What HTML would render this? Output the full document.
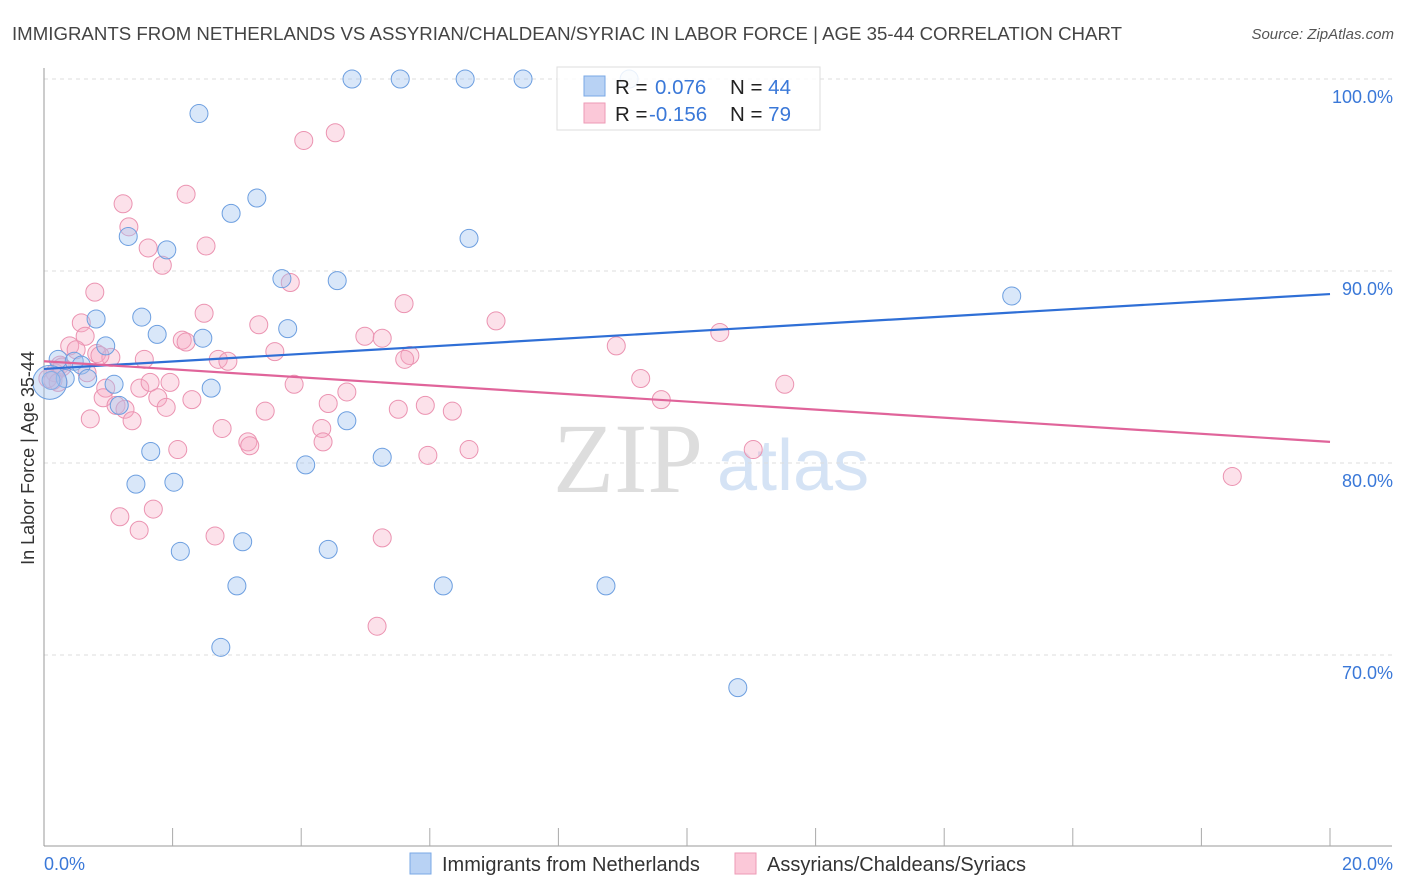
<!DOCTYPE html>
<html><head><meta charset="utf-8"><style>
body{margin:0;background:#fff;font-family:"Liberation Sans",sans-serif;}
svg{display:block}
</style></head><body>
<svg id="chart" width="1406" height="892">
<text x="12" y="40" font-size="18.6" fill="#444" textLength="1110" lengthAdjust="spacingAndGlyphs">IMMIGRANTS FROM NETHERLANDS VS ASSYRIAN/CHALDEAN/SYRIAC IN LABOR FORCE | AGE 35-44 CORRELATION CHART</text>
<text x="1394" y="39" font-size="15" fill="#555" font-style="italic" text-anchor="end">Source: ZipAtlas.com</text>
<g>
<text x="553" y="492" font-size="100" font-family="Liberation Serif,serif" fill="#ddd">ZIP</text>
<text x="717" y="490" font-size="72" fill="#d5e3f5">atlas</text>
</g>
<g id="grid"></g>
<g id="axes"></g>
<g id="pts"></g>
<g id="trends"></g>
<g>
<rect x="557" y="67" width="263" height="63" fill="#fff" fill-opacity="0.85" stroke="#ddd"/>
<rect x="584" y="76" width="21" height="20" fill="#b8d2f4" stroke="#7aa8e6"/>
<rect x="584" y="103" width="21" height="20" fill="#fbc8d8" stroke="#ee9ab6"/>
<text x="615" y="94" font-size="20.5" fill="#222">R = <tspan fill="#3a78d8" x="655">0.076</tspan><tspan x="730">N = </tspan><tspan fill="#3a78d8">44</tspan></text>
<text x="615" y="121" font-size="20.5" fill="#222">R = <tspan fill="#3a78d8" x="649">-0.156</tspan><tspan x="730">N = </tspan><tspan fill="#3a78d8">79</tspan></text>
</g>
<g>
<rect x="410" y="853" width="21" height="21" fill="#b8d2f4" stroke="#7aa8e6"/>
<text x="442" y="871" font-size="20" fill="#333">Immigrants from Netherlands</text>
<rect x="735" y="853" width="21" height="21" fill="#fbc8d8" stroke="#ee9ab6"/>
<text x="767" y="871" font-size="20" fill="#333">Assyrians/Chaldeans/Syriacs</text>
</g>
<text x="44" y="870" font-size="18" fill="#3a78d8">0.0%</text>
<text x="1393" y="870" font-size="18" fill="#3a78d8" text-anchor="end">20.0%</text>
<text transform="translate(34,458) rotate(-90)" font-size="18" fill="#333" text-anchor="middle">In Labor Force | Age 35-44</text>
</svg>
<script>
const yTicks=[100,90,80,70];
const yTickLabels=["100.0%","90.0%","80.0%","70.0%"];
const xTicks=[2,4,6,8,10,12,14,16,18,20];
const blueX=[4.79,5.54,6.55,7.45,9.10,2.41,3.31,2.91,1.31,1.91,6.61,3.70,4.56,15.05,0.81,1.52,1.76,2.47,3.79,0.96,0.22,0.47,0.58,0.33,0.68,1.09,2.60,0.11,1.17,4.71,1.66,4.07,5.26,1.43,2.02,2.12,3.09,4.42,3.00,6.21,8.74,2.75,10.79,0.09];
const blueY=[100,100,100,100,100,98.2,93.8,93.0,91.8,91.1,91.7,89.6,89.5,88.7,87.5,87.6,86.7,86.5,87.0,86.1,85.4,85.3,85.1,84.4,84.4,84.1,83.9,84.3,83.0,82.2,80.6,79.9,80.3,78.9,79.0,75.4,75.9,75.5,73.6,73.6,73.6,70.4,68.3,84.2];
const pinkX=[1.23,1.32,2.21,1.62,1.84,2.52,4.04,4.53,0.79,3.83,5.60,0.58,0.64,0.40,0.50,0.82,1.04,1.56,2.49,2.15,2.21,3.34,3.59,4.99,5.26,5.69,5.61,7.03,8.90,10.51,2.71,2.86,0.25,0.17,0.14,0.67,0.96,0.92,1.12,1.26,1.49,1.65,1.77,1.96,1.90,2.30,1.37,0.72,3.89,4.42,4.71,5.51,5.93,6.35,9.28,9.60,11.52,3.44,2.77,3.17,3.20,4.32,4.34,2.08,5.97,6.61,11.03,18.48,1.18,1.70,1.48,2.66,5.26,5.18,0.06,0.22,0.28,0.87];
const pinkY=[93.5,92.3,94.0,91.2,90.3,91.3,96.8,97.2,88.9,89.4,88.3,87.3,86.6,86.1,85.9,85.7,85.5,85.4,87.8,86.4,86.3,87.2,85.8,86.6,86.5,85.6,85.4,87.4,86.1,86.8,85.4,85.3,85.1,84.7,84.3,84.7,83.9,83.4,83.0,82.8,83.9,84.2,83.4,84.2,82.9,83.3,82.2,82.3,84.1,83.1,83.7,82.8,83.0,82.7,84.4,83.3,84.1,82.7,81.8,81.1,80.9,81.8,81.1,80.7,80.4,80.7,80.7,79.3,77.2,77.6,76.5,76.2,76.1,71.5,84.4,84.2,85.0,85.6];
const trendXs=[0,20];
const blueTrend=[84.9,88.8];
const pinkTrend=[85.3,81.1];
const NS='http://www.w3.org/2000/svg';
const X0=44,X1=1330,Y100=79,PXPER=19.2;
function sx(v){return X0+(X1-X0)*v/20;}
function sy(v){return Y100+(100-v)*PXPER;}
function mk(tag,attrs,parent){const e=document.createElementNS(NS,tag);for(const k in attrs)e.setAttribute(k,attrs[k]);parent.appendChild(e);return e;}
const grid=document.getElementById('grid'),axes=document.getElementById('axes'),pts=document.getElementById('pts'),tr=document.getElementById('trends');
yTicks.forEach((t,i)=>{
 const l=mk('line',{x1:44,x2:1392,y1:sy(t),y2:sy(t),stroke:'#ddd','stroke-dasharray':'4,4'},grid);
 
 
 const tx=mk('text',{x:1393,y:sy(t)+24,'font-size':18,fill:'#3a78d8','text-anchor':'end'},grid);
 tx.textContent=yTickLabels[i];
 
 
});
const ya=mk('line',{x1:44,x2:44,y1:68,y2:846,stroke:'#999'},axes);


const xa=mk('line',{x1:44,x2:1392,y1:846,y2:846,stroke:'#999'},axes);


xTicks.forEach(t=>{
 const l=mk('line',{x1:sx(t),x2:sx(t),y1:828,y2:846,stroke:'#aaa'},axes);
 
 
});
function dots(xs,ys,fill,stroke,name){
 xs.forEach((x,i)=>{
  const big=(name==='blue-point'&&i===xs.length-1);
  const c=mk('circle',{cx:sx(x),cy:sy(ys[i]),r:big?17:9,fill:fill,stroke:stroke,'stroke-width':1},pts);
  
  
 });
}
dots(pinkX,pinkY,'rgba(246,170,196,0.35)','#eb93b1','pink-point');
dots(blueX,blueY,'rgba(160,196,240,0.4)','#6d9fe0','blue-point');
const bl=mk('line',{x1:sx(trendXs[0]),y1:sy(blueTrend[0]),x2:sx(trendXs[1]),y2:sy(blueTrend[1]),stroke:'#2f6fd6','stroke-width':2.2},tr);


const pl=mk('line',{x1:sx(trendXs[0]),y1:sy(pinkTrend[0]),x2:sx(trendXs[1]),y2:sy(pinkTrend[1]),stroke:'#e0649a','stroke-width':2.2},tr);


</script>
</body></html>
